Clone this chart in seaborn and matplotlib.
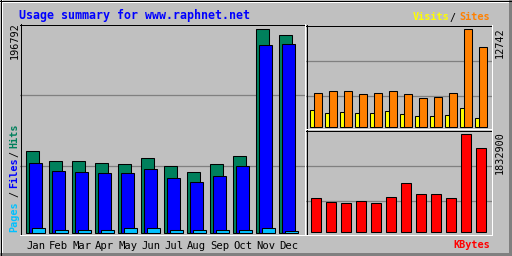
import matplotlib
matplotlib.use("Agg")
import matplotlib.pyplot as plt
import seaborn as sns
import numpy as np
from matplotlib.lines import Line2D

months = ["Jan", "Feb", "Mar", "Apr", "May", "Jun", "Jul", "Aug", "Sep", "Oct", "Nov", "Dec"]
hits = [78500, 68800, 68800, 66900, 65900, 71700, 64000, 58200, 65900, 73700, 196792, 191000]
files = [66900, 59100, 58200, 57200, 57200, 61100, 52300, 48500, 54300, 64000, 181300, 182500]
pages = [3900, 2900, 2900, 2900, 3900, 3900, 2900, 2900, 2900, 2900, 4800, 1900]
visits = [2210, 1820, 1950, 1820, 1820, 2080, 1690, 1430, 1430, 1560, 2470, 1170]
sites = [4420, 4680, 4680, 4290, 4420, 4680, 4290, 3770, 3900, 4420, 12742, 10400]
kbytes = [635900, 561100, 542400, 579800, 542400, 654600, 916500, 710700, 710700, 635900, 1832900, 1571100]

max_main_label = "196792"
max_vs_label = "12742"
max_kb_label = "1832900"

BG = "#C0C0C0"
C_HITS, C_FILES, C_PAGES = "#00805C", "#0000FF", "#00C0FF"
C_VISITS, C_SITES, C_KB = "#FFFF00", "#FF8000", "#FF0000"
GRID = "#808080"
MONO = "DejaVu Sans Mono"

W, H = 512, 256
fig = plt.figure(figsize=(W / 100, H / 100), dpi=100, facecolor=BG)


def add_ax(x0, y0, x1, y1):
    ax = fig.add_axes([x0 / W, 1 - y1 / H, (x1 - x0) / W, (y1 - y0) / H])
    ax.set_facecolor(BG)
    for s in ax.spines.values():
        s.set_visible(False)
    ax.set_yticks([])
    return ax


def bars(ax, x, y, width, color):
    sns.barplot(x=x, y=y, native_scale=True, width=width, color=color,
                saturation=1, edgecolor="black", linewidth=0.75,
                errorbar=None, ax=ax, zorder=2)


def px_line(x0, y0, x1, y1, color, lw=1.0):
    fig.add_artist(Line2D([x0 / W, x1 / W], [1 - y0 / H, 1 - y1 / H],
                          color=color, lw=lw * 0.72, transform=fig.transFigure,
                          solid_capstyle="butt", antialiased=False))


def bevel(x0, y0, x1, y1):
    px_line(x0, y0 + 0.5, x1 + 1, y0 + 0.5, "black")
    px_line(x0 + 0.5, y0, x0 + 0.5, y1 + 1, "black")
    px_line(x0, y1 + 0.5, x1 + 1, y1 + 0.5, "white")
    px_line(x1 + 0.5, y0, x1 + 0.5, y1 + 1, "white")


def setup_y(ax, top_px, bot_px, base_px, vmax, vmax_px, grid_px):
    u = vmax / (base_px - vmax_px)
    ax.set_ylim(-(bot_px - base_px) * u, (base_px - top_px) * u)
    for g in grid_px:
        ax.axhline((base_px - g) * u, color=GRID, lw=0.9, zorder=0.5)


idx = np.arange(12)

# ---- main panel: hits / files / pages ----
ax1 = add_ax(20, 24, 305, 234)
bars(ax1, idx - 3 / 23, hits, 13 / 23, C_HITS)
bars(ax1, idx + 0.0, files, 13 / 23, C_FILES)
bars(ax1, idx + 3 / 23, pages, 13 / 23, C_PAGES)
ax1.set_xlim((20 - 35.8) / 23, (305 - 35.8) / 23)
setup_y(ax1, 24, 234, 232.5, max(hits), 29.3, [95.5, 165.5])
ax1.set_xticks(idx)
ax1.set_xticklabels(months, fontsize=7.6, family=MONO, color="black")
ax1.tick_params(axis="x", length=0, pad=5.0)
ax1.set_xlabel("")
ax1.set_ylabel("")

# ---- top right: visits / sites ----
ax2 = add_ax(306, 25, 492, 128.5)
bars(ax2, idx - 5.5 / 15, visits, 5 / 15, C_VISITS)
bars(ax2, idx + 0.0, sites, 8 / 15, C_SITES)
ax2.set_xlim((306 - 318) / 15, (492 - 318) / 15)
setup_y(ax2, 25, 128.5, 127.3, max(sites), 29.3, [60.5, 95.5])
ax2.set_xticks([])
ax2.set_xlabel("")
ax2.set_ylabel("")

# ---- bottom right: kbytes ----
ax3 = add_ax(306, 130, 492, 234.5)
bars(ax3, idx + 0.0, kbytes, 10 / 15, C_KB)
ax3.set_xlim((306 - 316) / 15, (492 - 316) / 15)
setup_y(ax3, 130, 234.5, 232.3, max(kbytes), 134.3, [165.5, 200.5])
ax3.set_xticks([])
ax3.set_xlabel("")
ax3.set_ylabel("")

# ---- panel bevels ----
bevel(20, 24, 304, 234)
bevel(306, 25, 491, 128)
bevel(306, 130, 491, 234)

# ---- outer frame ----
px_line(0, 1.5, W, 1.5, "white", 2)
px_line(1.5, 0, 1.5, H, "white", 2)
px_line(0, H - 2.5, W, H - 2.5, "#808080", 3)
px_line(W - 2.5, 0, W - 2.5, H, "#808080", 3)
px_line(0, 0.5, W, 0.5, "black")
px_line(0.5, 0, 0.5, H, "black")
px_line(0, H - 0.5, W, H - 0.5, "black")
px_line(W - 0.5, 0, W - 0.5, H, "black")


def ftext(x, y, s, **kw):
    kw.setdefault("family", MONO)
    fig.text(x / W, 1 - y / H, s, **kw)


# title
ftext(19, 18.8, "Usage summary for www.raphnet.net", fontsize=8.4,
      fontweight="bold", color="#0000FF", va="baseline", ha="left")

# visits / sites legend
ftext(449, 20.5, "Visits", fontsize=7.3, fontweight="bold", color=C_VISITS, ha="right", va="baseline")
ftext(452.5, 20.5, "/", fontsize=7.3, color="black", ha="center", va="baseline")
ftext(490.5, 20.5, "Sites", fontsize=7.3, fontweight="bold", color=C_SITES, ha="right", va="baseline")

# kbytes legend
ftext(490.5, 247.5, "KBytes", fontsize=7.3, fontweight="bold", color=C_KB, ha="right", va="baseline")

# left vertical legend
for s, yb, c in [("Pages", 232, C_PAGES), ("/", 197, "black"), ("Files", 188.5, C_FILES),
                 ("/", 157, "black"), ("Hits", 148.5, C_HITS)]:
    ftext(14.5, yb, s, fontsize=7.3, color=c, rotation=90, ha="center", va="bottom",
          fontweight="bold" if c != "black" else "normal")

# max labels
ftext(15, 22, max_main_label, fontsize=7.3, color="black", rotation=90, ha="center", va="top")
ftext(500, 27.5, max_vs_label, fontsize=7.3, color="black", rotation=90, ha="center", va="top")
ftext(500, 131, max_kb_label, fontsize=7.3, color="black", rotation=90, ha="center", va="top")

fig.savefig("out.png", dpi=100, facecolor=BG)
